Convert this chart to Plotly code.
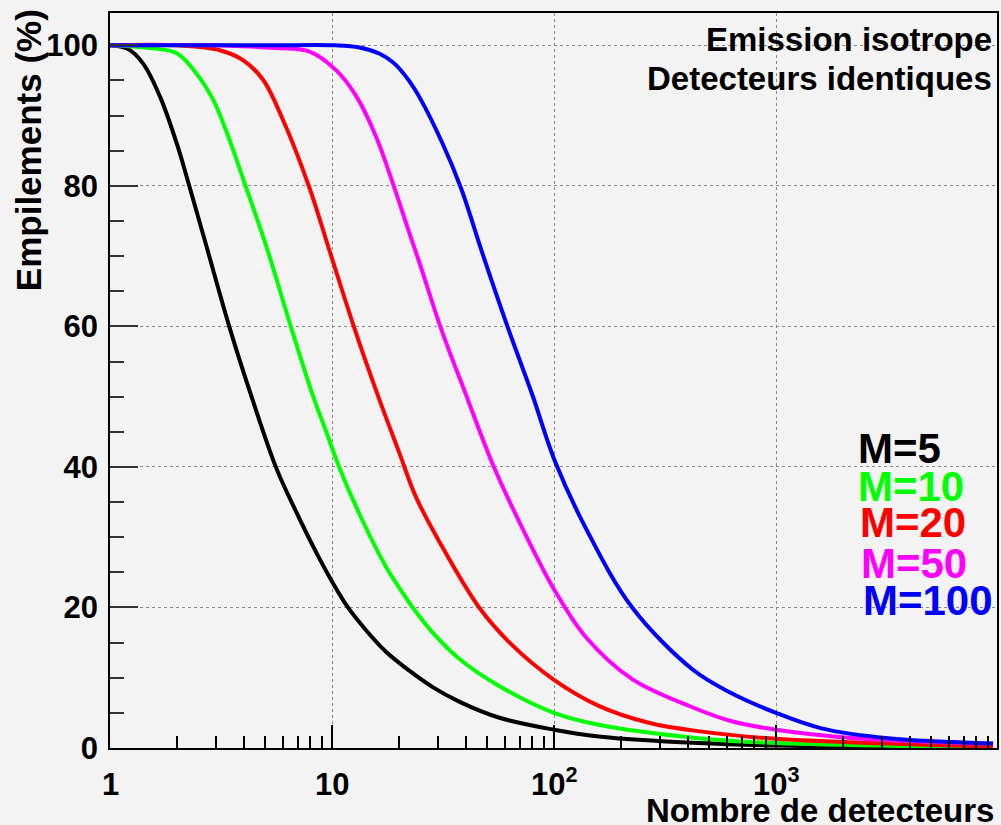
import math
import plotly.graph_objects as go

# ---- data ----
n_m5 = [1, 1.2, 1.41, 1.68, 2.0, 2.29, 2.72, 3.46, 4.3, 5.6, 6.9, 8.5, 10, 11.8, 14.2, 17.5, 22.3, 28.3, 37.4, 56.8, 100, 159, 446, 1000, 9500]
p_m5 = [100, 99.5, 97.4, 92.7, 86.0, 79.7, 71.4, 59.8, 50.4, 39.9, 33.6, 27.8, 23.7, 20.0, 16.8, 13.7, 11.0, 8.7, 6.6, 4.3, 2.6, 1.65, 0.7, 0.35, 0.05]

n_m10 = [1, 1.51, 1.99, 2.45, 2.91, 3.34, 4.11, 5.06, 6.55, 8.15, 9.42, 10.8, 13.8, 17.5, 20.1, 23.1, 28.3, 37.4, 56.8, 100, 159, 446, 1000, 9500]
p_m10 = [100, 99.6, 98.9, 96.0, 92.3, 87.8, 79.7, 71.4, 59.8, 50.4, 45.0, 39.9, 32.2, 25.8, 22.8, 20.0, 16.5, 12.7, 8.8, 5.0, 3.3, 1.4, 0.7, 0.1]

n_m20 = [1, 2, 3.12, 3.97, 4.89, 6.01, 7.92, 9.74, 12.6, 16.0, 20.1, 23.9, 30.4, 46.0, 65, 100, 159, 267, 446, 1000, 9500]
p_m20 = [100, 100, 99.3, 97.9, 95.1, 89.4, 79.7, 70.8, 59.8, 50.4, 42.0, 35.7, 29.4, 20.0, 14.6, 9.7, 6.0, 3.6, 2.4, 1.3, 0.2]

n_m50 = [1, 3, 5.61, 7.92, 10.4, 12.9, 15.8, 19.1, 22.3, 24.7, 30.9, 40, 52.8, 72, 100, 139, 225, 420, 632, 1000, 2270, 9500]
p_m50 = [100, 100, 99.6, 99.1, 96.5, 92.7, 87.0, 79.7, 73.3, 69.2, 59.8, 50.4, 40.5, 31.3, 22.6, 15.8, 9.8, 5.8, 3.8, 2.6, 1.4, 0.6]

n_m100 = [1, 5, 10.4, 13.3, 16.4, 18.8, 20.1, 22.3, 24.7, 31.4, 38.1, 47.6, 61.7, 80, 101, 139, 225, 420, 612, 1000, 1603, 3200, 9500]
p_m100 = [100, 100, 100, 99.7, 98.8, 97.6, 96.7, 94.9, 92.7, 86.1, 79.7, 70.4, 60.0, 50.2, 40.8, 31.3, 20.0, 11.2, 8.0, 5.0, 2.8, 1.4, 0.65]

series_labels = ["M=5", "M=10", "M=20", "M=50", "M=100"]
series_colors = ["#000000", "#00ff00", "#ff0000", "#ff00ff", "#0000ff"]

x_tickvals = [1, 10, 100, 1000]
x_ticktext = ["1", "10", "10<sup>2</sup>", "10<sup>3</sup>"]
y_tickvals = [0, 20, 40, 60, 80, 100]

x_title = "Nombre de detecteurs"
y_title = "Empilements (%)"
info_lines = ["Emission isotrope", "Detecteurs identiques"]

# ---- figure ----
W, H = 1001, 825
ML, MR, MT, MB = 110, 2, 13, 77
PW, PH = W - ML - MR, H - MT - MB

def px2paper(px, py):
    return (px - ML) / PW, (H - MB - py) / PH

FONT = "Liberation Sans, Arial, sans-serif"
BG = "#f3f3f3"

fig = go.Figure()
all_n = [n_m5, n_m10, n_m20, n_m50, n_m100]
all_p = [p_m5, p_m10, p_m20, p_m50, p_m100]
for n, p, lab, col in zip(all_n, all_p, series_labels, series_colors):
    fig.add_trace(go.Scatter(x=n, y=p, mode="lines", name=lab,
                             line=dict(color=col, width=4, shape="spline", smoothing=1.0),
                             showlegend=False))

minor_x = [m * 10 ** d for d in range(4) for m in range(2, 10)]

tfont = dict(family=FONT, size=31, color="black", weight="bold")

fig.update_xaxes(type="log", range=[0, 3.9955],
                 tickmode="array", tickvals=x_tickvals, ticktext=x_ticktext,
                 showticklabels=False,
                 ticks="inside", ticklen=23, tickwidth=1.5, tickcolor="black",
                 minor=dict(tickmode="array", tickvals=minor_x, ticks="inside",
                            ticklen=12, tickwidth=1.5, tickcolor="black", showgrid=False),
                 showgrid=True, gridcolor="#888888", griddash="dot", gridwidth=1,
                 showline=True, linecolor="black", linewidth=1.5, mirror=True,
                 zeroline=False)

fig.update_yaxes(range=[0, 104.6], tickmode="array", tickvals=y_tickvals,
                 ticks="inside", ticklen=28, tickwidth=1.5, tickcolor="#333333",
                 ticklabelstandoff=4,
                 minor=dict(dtick=5, ticks="inside", ticklen=14, tickwidth=1.5,
                            tickcolor="#333333", showgrid=False),
                 showgrid=True, gridcolor="#888888", griddash="dot", gridwidth=1,
                 showline=True, linecolor="black", linewidth=1.5, mirror=True,
                 zeroline=False, tickfont=tfont)

ann = []
# x tick labels (placed below the axis like the reference)
_, ytick = px2paper(0, 804)
for v, t in zip(x_tickvals, x_ticktext):
    ann.append(dict(text=t, x=math.log10(v), y=ytick, xref="x", yref="paper",
                    xanchor="center", yanchor="bottom", showarrow=False,
                    font=tfont))
# axis titles
x, y = px2paper(998, 810)
ann.append(dict(text="<b>%s</b>" % x_title, x=x, y=y, xref="paper", yref="paper",
                xanchor="right", yanchor="middle", showarrow=False,
                height=26, valign="middle",
                font=dict(family=FONT, size=33, color="black")))
x, y = px2paper(28, 150)
ann.append(dict(text="<b>%s</b>" % y_title, x=x, y=y, xref="paper", yref="paper",
                xanchor="center", yanchor="middle", textangle=-90, showarrow=False,
                font=dict(family=FONT, size=35, color="black")))
# info text
for line, cy in zip(info_lines, [39, 79]):
    x, y = px2paper(996, cy)
    ann.append(dict(text="<b>%s</b>" % line, x=x, y=y, xref="paper", yref="paper",
                    xanchor="right", yanchor="middle", showarrow=False,
                    font=dict(family=FONT, size=33, color="black")))
# labels for series
lab_pos = [(858, 448), (858, 486), (860, 522), (861, 563), (863, 600)]
for lab, col, (lx, ly) in zip(series_labels, series_colors, lab_pos):
    x, y = px2paper(lx, ly)
    ann.append(dict(text="<b>%s</b>" % lab, x=x, y=y, xref="paper", yref="paper",
                    xanchor="left", yanchor="middle", showarrow=False,
                    height=34, valign="middle",
                    font=dict(family=FONT, size=42, color=col)))

fig.update_layout(width=W, height=H, margin=dict(l=ML, r=MR, t=MT, b=MB, pad=0),
                  paper_bgcolor=BG, plot_bgcolor=BG, annotations=ann,
                  showlegend=False)

fig.write_html("out.html")
